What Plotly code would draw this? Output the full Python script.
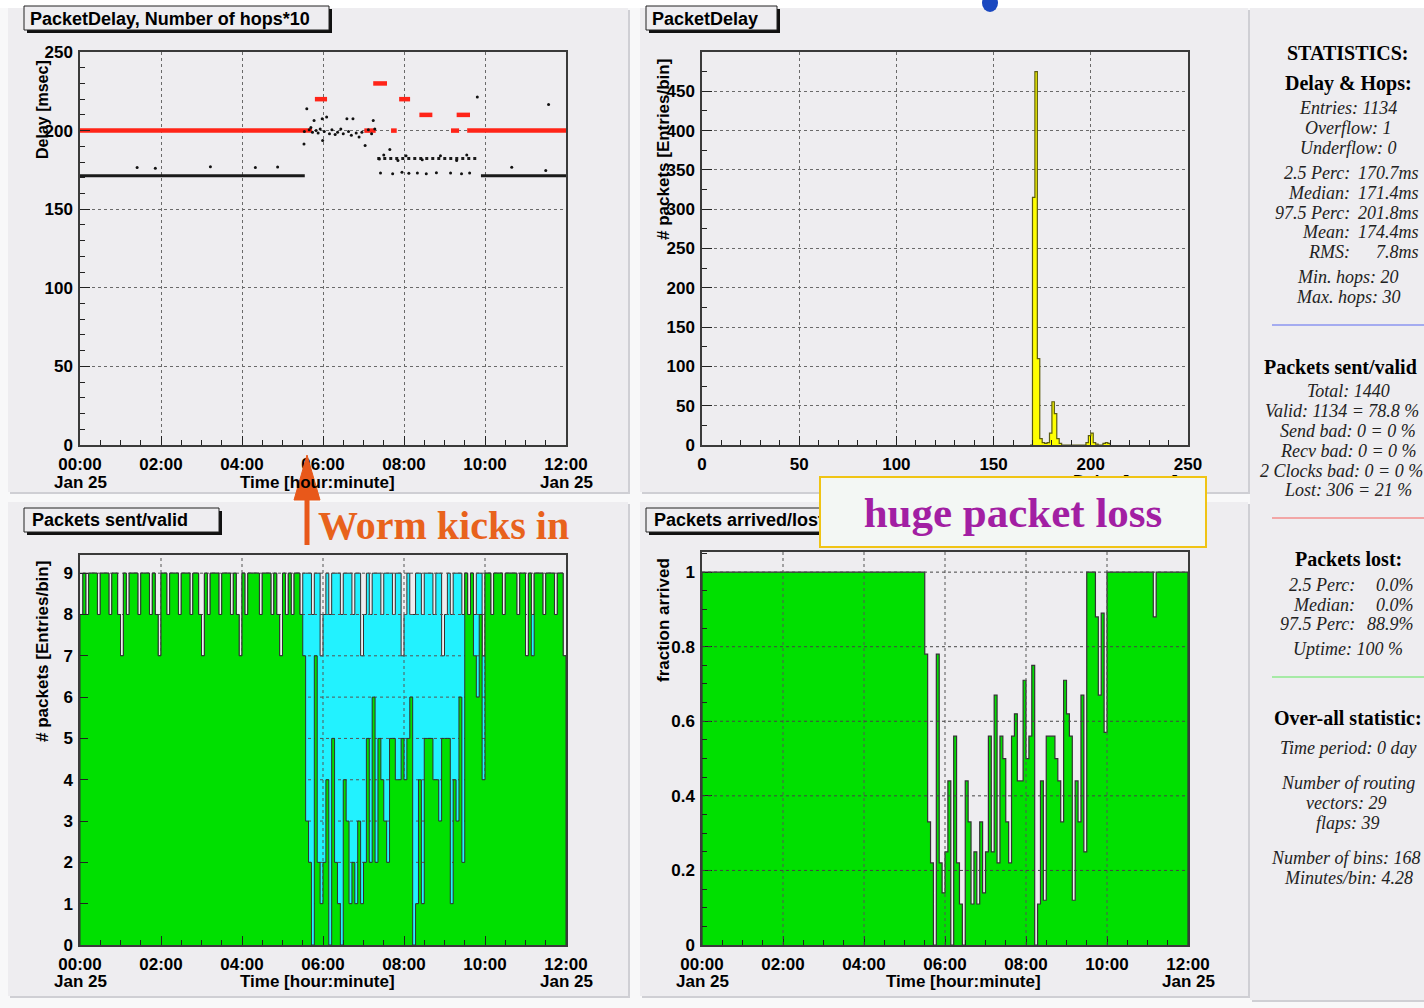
import plotly.graph_objects as go

W, H = 1424, 1008
def px(x): return x / W
def py(y): return 1 - y / H

# ====================== DATA ======================
time_tick_vals = [0, 2, 4, 6, 8, 10, 12]
time_tick_text = ["00:00", "02:00", "04:00", "06:00", "08:00", "10:00", "12:00"]
date_label_at = [0, 12]
date_label_text = ["Jan 25", "Jan 25"]

# --- Panel 1: PacketDelay, Number of hops*10 (time in hours) ---
delay_dense_start = [0.0, 9.90]
delay_dense_end = [5.55, 12.0]
delay_dense_ms = [171.3, 171.3]
delay_band_start = [7.34]
delay_band_end = [9.85]
delay_band_ms = [182.3]
delay_pt_time = [1.41, 1.86, 3.22, 4.33, 4.88,
                 5.53, 5.54, 5.60, 5.66, 5.70, 5.74, 5.78, 5.83, 5.88, 5.93,
                 5.98, 5.99, 6.03, 6.09, 6.16, 6.22, 6.30, 6.36, 6.44, 6.50,
                 6.59, 6.63, 6.70, 6.74, 6.82, 6.89, 6.96, 7.04, 7.12, 7.20,
                 7.24, 7.28,
                 7.39, 7.65, 7.50, 7.85, 8.05, 8.45, 8.90, 9.30, 9.55,
                 7.42, 7.72, 7.95, 8.12, 8.33, 8.55, 8.80, 9.15, 9.42, 9.62,
                 9.81, 10.66, 11.50, 11.57]
delay_pt_ms = [176.5, 176.0, 177.0, 176.5, 176.8,
               191.5, 199.5, 213.9, 200.5, 202.0, 199.0, 206.5, 200.0, 198.5, 201.0,
               207.5, 193.7, 199.5, 208.6, 198.0, 200.5, 197.5, 199.0, 201.0, 198.0,
               207.5, 199.5, 197.0, 207.5, 198.5, 196.0, 199.0, 190.5, 200.5, 198.0,
               206.5, 201.0,
               182.0, 188.0, 184.5, 181.0, 184.0, 181.5, 184.0, 181.0, 184.5,
               173.0, 172.5, 173.5, 172.8, 173.0, 172.5, 173.2, 173.0, 172.5, 173.0,
               221.3, 176.7, 174.6, 216.6]
hops_start = [0.00, 5.80, 7.02, 7.24, 7.68, 7.88, 8.38, 9.16, 9.30, 9.56]
hops_end = [5.73, 6.10, 7.30, 7.58, 7.82, 8.15, 8.70, 9.36, 9.63, 12.0]
hops_value = [20, 22, 20, 23, 20, 22, 21, 20, 21, 20]

# --- Panel 2: PacketDelay histogram (msec) ---
delay_bin_width = 1.25
delay_bin_low = [168.75, 170.0, 171.25, 172.5, 173.75, 175.0, 176.25, 177.5, 178.75, 180.0,
                 181.25, 182.5, 183.75, 185.0, 186.25, 187.5, 188.75, 190.0, 191.25, 192.5,
                 193.75, 195.0, 196.25, 197.5, 198.75, 200.0, 201.25, 202.5, 203.75, 205.0,
                 206.25, 207.5, 208.75]
delay_bin_count = [0, 315, 475, 110, 8, 3, 2, 3, 15, 55,
                   40, 8, 2, 0, 0, 0, 0, 0, 0, 0,
                   0, 0, 0, 3, 12, 15, 3, 1, 0, 0,
                   2, 3, 2]

# --- Panels 3/4: 168 bins of 4.28 minutes over 12 hours ---
n_time_bins = 168
packets_sent = [8, 9, 8, 9, 9, 9, 8, 9, 9, 9,
                8, 9, 9, 8, 7, 9, 8, 9, 9, 9,
                8, 9, 9, 9, 8, 9, 8, 7, 9, 9,
                8, 9, 9, 9, 8, 9, 9, 9, 8, 9,
                9, 8, 7, 9, 8, 9, 9, 9, 8, 9,
                9, 9, 8, 9, 8, 7, 9, 8, 9, 9,
                9, 9, 8, 9, 9, 9, 8, 9, 8, 7,
                9, 8, 9, 8, 9, 9, 8, 9, 9, 9,
                8, 9, 9, 7, 8, 9, 8, 9, 9, 9,
                8, 9, 9, 9, 8, 9, 9, 7, 8, 9,
                8, 9, 9, 9, 8, 9, 9, 9, 8, 9,
                9, 7, 8, 9, 8, 8, 9, 9, 8, 9,
                9, 9, 8, 9, 9, 7, 8, 9, 8, 9,
                9, 9, 8, 9, 8, 9, 8, 9, 9, 7,
                9, 9, 8, 9, 9, 9, 8, 9, 9, 9,
                9, 8, 9, 9, 7, 9, 8, 9, 9, 9,
                8, 9, 9, 9, 8, 9, 9, 7]
packets_valid = [8, 9, 8, 9, 9, 9, 8, 9, 9, 9,
                 8, 9, 9, 8, 7, 9, 8, 9, 9, 9,
                 8, 9, 9, 9, 8, 9, 8, 7, 9, 9,
                 8, 9, 9, 9, 8, 9, 9, 9, 8, 9,
                 9, 8, 7, 9, 8, 9, 9, 9, 8, 9,
                 9, 9, 8, 9, 8, 7, 9, 8, 9, 9,
                 9, 9, 8, 9, 9, 9, 8, 9, 8, 7,
                 9, 8, 9, 8, 9, 9, 8, 7, 3, 2,
                 0, 7, 2, 1, 2, 4, 0, 5, 2, 1,
                 0, 4, 3, 1, 2, 1, 3, 1, 2, 5,
                 2, 6, 2, 5, 4, 3, 2, 5, 5, 4,
                 4, 5, 4, 5, 6, 0, 1, 4, 1, 5,
                 5, 5, 4, 4, 3, 5, 5, 5, 1, 4,
                 3, 6, 2, 9, 8, 9, 7, 6, 8, 4,
                 9, 9, 8, 9, 9, 9, 8, 9, 9, 9,
                 9, 8, 9, 9, 7, 9, 7, 9, 9, 9,
                 8, 9, 9, 9, 8, 9, 9, 7]
fraction_arrived = [1, 1, 1, 1, 1, 1, 1, 1, 1, 1,
                    1, 1, 1, 1, 1, 1, 1, 1, 1, 1,
                    1, 1, 1, 1, 1, 1, 1, 1, 1, 1,
                    1, 1, 1, 1, 1, 1, 1, 1, 1, 1,
                    1, 1, 1, 1, 1, 1, 1, 1, 1, 1,
                    1, 1, 1, 1, 1, 1, 1, 1, 1, 1,
                    1, 1, 1, 1, 1, 1, 1, 1, 1, 1,
                    1, 1, 1, 1, 1, 1, 1, 0.78, 0.33, 0.22,
                    0, 0.78, 0.22, 0.14, 0.25, 0.44, 0, 0.56, 0.22, 0.11,
                    0, 0.44, 0.33, 0.11, 0.25, 0.11, 0.33, 0.14, 0.25, 0.56,
                    0.25, 0.67, 0.22, 0.56, 0.5, 0.33, 0.22, 0.56, 0.62, 0.44,
                    0.44, 0.71, 0.5, 0.56, 0.75, 0, 0.11, 0.44, 0.12, 0.56,
                    0.56, 0.56, 0.5, 0.44, 0.33, 0.71, 0.62, 0.56, 0.12, 0.44,
                    0.33, 0.67, 0.25, 1, 1, 1, 0.88, 0.67, 0.89, 0.57,
                    1, 1, 1, 1, 1, 1, 1, 1, 1, 1,
                    1, 1, 1, 1, 1, 1, 0.88, 1, 1, 1,
                    1, 1, 1, 1, 1, 1, 1, 1]
assert len(packets_sent) == n_time_bins
assert len(packets_valid) == n_time_bins
assert len(fraction_arrived) == n_time_bins

# ====================== STYLE ======================
PAD = "#eeedf0"
PAPER = "#f8f8f9"
GREEN = "#00e000"
CYAN = "#22f2ff"
SANS = "Liberation Sans, Arial, Helvetica"
SERIF = "Liberation Serif, Times New Roman, serif"
TICKFONT = dict(family=SANS, size=17, color="black", weight="bold")

def step_xy(lows, width, vals):
    xs = [lows[0]]
    ys = [0]
    for lo, v in zip(lows, vals):
        xs.append(lo)
        ys.append(v)
    xs += [lows[-1] + width, lows[-1] + width]
    ys += [vals[-1], 0]
    return xs, ys

def seg_xy(starts, ends, vals, scale=1.0):
    xs, ys = [], []
    for s, e, v in zip(starts, ends, vals):
        xs += [s, e, None]
        ys += [v * scale, v * scale, None]
    return xs, ys

fig = go.Figure()

# ---------- Panel 1 ----------
x, y = seg_xy(hops_start, hops_end, hops_value, 10)
fig.add_trace(go.Scatter(x=x, y=y, mode="lines", line=dict(color="#ff2418", width=4.5),
                         xaxis="x", yaxis="y", hoverinfo="skip"))
x, y = seg_xy(delay_dense_start, delay_dense_end, delay_dense_ms)
fig.add_trace(go.Scatter(x=x, y=y, mode="lines", line=dict(color="#1a1a1a", width=3),
                         xaxis="x", yaxis="y", hoverinfo="skip"))
x, y = seg_xy(delay_band_start, delay_band_end, delay_band_ms)
fig.add_trace(go.Scatter(x=x, y=y, mode="lines", line=dict(color="#1a1a1a", width=3, dash="dot"),
                         xaxis="x", yaxis="y", hoverinfo="skip"))
fig.add_trace(go.Scatter(x=delay_pt_time, y=delay_pt_ms, mode="markers",
                         marker=dict(color="#111", size=3), xaxis="x", yaxis="y"))

# ---------- Panel 2 ----------
x, y = step_xy(delay_bin_low, delay_bin_width, delay_bin_count)
fig.add_trace(go.Scatter(x=x, y=y, mode="lines", line_shape="hv", fill="tozeroy",
                         fillcolor="#ffff00", line=dict(color="#5c5c10", width=1.2),
                         xaxis="x2", yaxis="y2"))

# ---------- Panel 3 ----------
bin_w = 12.0 / n_time_bins
bin_low = [i * bin_w for i in range(n_time_bins)]
x, y = step_xy(bin_low, bin_w, packets_sent)
fig.add_trace(go.Scatter(x=x, y=y, mode="lines", line_shape="hv", fill="tozeroy",
                         fillcolor=CYAN, line=dict(color="#303030", width=1),
                         xaxis="x3", yaxis="y3"))
gx, gy = [], []
for t in time_tick_vals[1:-1]:
    gx += [t, t, None]
    gy += [0, 9.44, None]
for v in range(1, 10):
    gx += [0, 12, None]
    gy += [v, v, None]
fig.add_trace(go.Scatter(x=gx, y=gy, mode="lines", line=dict(color="#555", width=1, dash="dot"),
                         xaxis="x3", yaxis="y3", hoverinfo="skip"))
x, y = step_xy(bin_low, bin_w, packets_valid)
fig.add_trace(go.Scatter(x=x, y=y, mode="lines", line_shape="hv", fill="tozeroy",
                         fillcolor=GREEN, line=dict(color="#303030", width=1),
                         xaxis="x3", yaxis="y3"))

# ---------- Panel 4 ----------
x, y = step_xy(bin_low, bin_w, fraction_arrived)
fig.add_trace(go.Scatter(x=x, y=y, mode="lines", line_shape="hv", fill="tozeroy",
                         fillcolor=GREEN, line=dict(color="#333", width=1.2),
                         xaxis="x4", yaxis="y4"))

# ====================== AXES ======================
def ax(**kw):
    d = dict(showline=True, mirror=True, linecolor="#3a3a3a", linewidth=1.5,
             ticks="inside", tickcolor="#222", tickfont=TICKFONT, zeroline=False,
             showgrid=True, gridcolor="#6a6a6a", griddash="dot", gridwidth=1,
             fixedrange=True, ticklabelstandoff=2, automargin=False)
    d.update(kw)
    return d

dom_x_left = [px(80), px(566)]
dom_x_right = [px(702), px(1188)]
MINOR = dict(ticks="inside", tickcolor="#222", showgrid=False, ticklen=5)

layout = dict(
    width=W, height=H, margin=dict(l=0, r=0, t=0, b=0, autoexpand=False),
    paper_bgcolor=PAPER, plot_bgcolor="#f2f1f4", showlegend=False,
    xaxis=ax(domain=dom_x_left, range=[0, 12], anchor="y", tickvals=time_tick_vals,
             ticktext=time_tick_text, ticklen=9, ticklabelstandoff=3,
             minor=dict(dtick=0.5, **MINOR)),
    yaxis=ax(domain=[py(445), py(52)], range=[0, 250], anchor="x", dtick=50, ticklen=10,
             minor=dict(dtick=10, **MINOR)),
    xaxis2=ax(domain=dom_x_right, range=[0, 250], anchor="y2", dtick=50, ticklen=9,
              ticklabelstandoff=3, minor=dict(dtick=10, **MINOR)),
    yaxis2=ax(domain=[py(445), py(52)], range=[0, 500], anchor="x2", ticklen=10,
              tickvals=[0, 50, 100, 150, 200, 250, 300, 350, 400, 450],
              minor=dict(dtick=25, **MINOR)),
    xaxis3=ax(domain=dom_x_left, range=[0, 12], anchor="y3", tickvals=time_tick_vals,
              ticktext=time_tick_text, ticklen=9, showgrid=False, ticklabelstandoff=3,
              minor=dict(dtick=0.5, **MINOR)),
    yaxis3=ax(domain=[py(945), py(555)], range=[0, 9.44], anchor="x3",
              tickvals=[0, 1, 2, 3, 4, 5, 6, 7, 8, 9], ticklen=8, showgrid=False),
    xaxis4=ax(domain=dom_x_right, range=[0, 12], anchor="y4", tickvals=time_tick_vals,
              ticktext=time_tick_text, ticklen=9, showgrid=False, ticklabelstandoff=3,
              minor=dict(dtick=0.5, **MINOR)),
    yaxis4=ax(domain=[py(945), py(552)], range=[0, 1.054], anchor="x4",
              tickvals=[0, 0.2, 0.4, 0.6, 0.8, 1], ticktext=["0", "0.2", "0.4", "0.6", "0.8", "1"],
              ticklen=10, showgrid=False, minor=dict(dtick=0.05, **MINOR)),
)

# ====================== SHAPES ======================
shapes = []
def rect(x0, y0, x1, y1, fill, line=None, lw=0, layer="below"):
    shapes.append(dict(type="rect", xref="paper", yref="paper", x0=px(x0), x1=px(x1),
                       y0=py(y1), y1=py(y0), fillcolor=fill,
                       line=dict(color=line or fill, width=lw), layer=layer))

def hline(x0, x1, yv, color, width=2, layer="above"):
    shapes.append(dict(type="line", xref="paper", yref="paper", x0=px(x0), x1=px(x1),
                       y0=py(yv), y1=py(yv), line=dict(color=color, width=width), layer=layer))

# pads
for (x0, y0, x1, y1) in [(8, 8, 628, 492), (640, 8, 1248, 492), (8, 502, 628, 996),
                         (640, 502, 1248, 996), (1250, 8, 1430, 1000)]:
    rect(x0 + 2, y0 + 2, x1 + 2, y1 + 2, "#cfcfd4")
    rect(x0, y0, x1, y1, PAD)
rect(0, 0, W, 8, "#ffffff")

# P4 grid (drawn over the filled histogram)
for t in time_tick_vals[1:-1]:
    shapes.append(dict(type="line", xref="x4", yref="y4", x0=t, x1=t, y0=0, y1=1.054,
                       line=dict(color="#555", width=1, dash="dot"), layer="above"))
for v in [0.2, 0.4, 0.6, 0.8, 1.0]:
    shapes.append(dict(type="line", xref="x4", yref="y4", x0=0, x1=12, y0=v, y1=v,
                       line=dict(color="#444", width=1, dash="dot"), layer="above"))

# title boxes (with shadow)
for (x0, y0, x1, y1) in [(24, 6, 329, 30), (646, 6, 777, 30), (24, 508, 219, 532), (646, 508, 860, 532)]:
    rect(x0 + 3, y0 + 3, x1 + 3, y1 + 3, "#111111", layer="above")
    rect(x0, y0, x1, y1, PAD, line="#222222", lw=1, layer="above")

# stats separators
hline(1272, 1430, 325, "#a4abf0")
hline(1272, 1430, 518, "#f2a6a6")
hline(1272, 1430, 677, "#a6eaa6")

# Worm arrow
shapes.append(dict(type="line", xref="paper", yref="paper", x0=px(307), x1=px(307),
                   y0=py(545), y1=py(492), line=dict(color="#e8581a", width=5), layer="above"))
shapes.append(dict(type="path", xref="paper", yref="paper",
                   path=f"M {px(294)} {py(500)} L {px(320)} {py(500)} L {px(307)} {py(455)} Z",
                   fillcolor="#e8581a", line=dict(color="#e8581a", width=1), layer="above"))
# blue blob at top edge
shapes.append(dict(type="circle", xref="paper", yref="paper", x0=px(982), x1=px(998),
                   y0=py(12), y1=py(-6), fillcolor="#1a48c0", line=dict(width=0), layer="above"))

layout["shapes"] = shapes

# ====================== ANNOTATIONS ======================
anns = []
def ann(x, y, text, size=17, family=SANS, color="black", xanchor="center", yanchor="middle",
        angle=0, weight="bold", **kw):
    d = dict(x=px(x), y=py(y), xref="paper", yref="paper", text=text, showarrow=False,
             font=dict(family=family, size=size, color=color, weight=weight), xanchor=xanchor,
             yanchor=yanchor, textangle=angle)
    d.update(kw)
    anns.append(d)

# date line under first/last time tick
for xr, yy in [("x", 482), ("x3", 981), ("x4", 981)]:
    for t, txt in zip(date_label_at, date_label_text):
        anns.append(dict(x=t, y=py(yy), xref=xr, yref="paper", text=txt, showarrow=False,
                         font=dict(family=SANS, size=17, color="black", weight="bold"),
                         xanchor="center", yanchor="middle"))

# axis titles
ann(42, 110, "Delay [msec]", size=16, angle=-90)
ann(317, 482, "Time [hour:minute]")
ann(663, 150, "# packets [Entries/bin]", angle=-90)
ann(1125, 481, "Delay [msec]")
ann(42, 652, "# packets [Entries/bin]", angle=-90)
ann(317, 981, "Time [hour:minute]")
ann(663, 620, "fraction arrived", angle=-90)
ann(963, 981, "Time [hour:minute]")

# panel titles
ann(28, 19, "PacketDelay, Number of hops*10", size=18, xanchor="left")
ann(650, 19, "PacketDelay", size=18, xanchor="left")
ann(30, 520, "Packets sent/valid", size=18, xanchor="left")
ann(652, 520, "Packets arrived/lost", size=18, xanchor="left")

# statistics column
CX = 1348
def bold(x, y, t, xanchor="center"):
    ann(x, y, t, size=20, family=SERIF, xanchor=xanchor)

def ital(x, y, t, xanchor="center"):
    ann(x, y, "<i>" + t + "</i>", size=18, family=SERIF, xanchor=xanchor, color="#222",
        weight="normal")

bold(CX, 53, "STATISTICS:")
bold(CX, 83, "Delay &amp; Hops:")
ital(CX, 108, "Entries: 1134")
ital(CX, 128, "Overflow: 1")
ital(CX, 148, "Underflow: 0")
for lab, val, yy in [("2.5 Perc:", "170.7ms", 173), ("Median:", "171.4ms", 193),
                     ("97.5 Perc:", "201.8ms", 213), ("Mean:", "174.4ms", 232),
                     ("RMS:", "7.8ms", 252)]:
    ital(1352, yy, lab, xanchor="right")
    ital(1421, yy, val, xanchor="right")
ital(CX, 277, "Min. hops: 20")
ital(CX, 297, "Max. hops: 30")
bold(1262, 367, "Packets sent/valid", xanchor="left")
ital(CX, 391, "Total: 1440")
ital(1342, 411, "Valid: 1134 = 78.8 %")
ital(CX, 431, "Send bad: 0 = 0 %")
ital(CX, 451, "Recv bad: 0 = 0 %")
ital(1341, 471, "2 Clocks bad: 0 = 0 %")
ital(CX, 490, "Lost: 306 = 21 %")
bold(CX, 559, "Packets lost:")
for lab, val, yy in [("2.5 Perc:", "0.0%", 585), ("Median:", "0.0%", 605), ("97.5 Perc:", "88.9%", 624)]:
    ital(1357, yy, lab, xanchor="right")
    ital(1416, yy, val, xanchor="right")
ital(CX, 649, "Uptime: 100 %")
bold(CX, 718, "Over-all statistic:")
ital(CX, 748, "Time period: 0 day")
ital(CX, 783, "Number of routing")
ital(1346, 803, "vectors: 29")
ital(CX, 823, "flaps: 39")
ital(1346, 858, "Number of bins: 168")
ital(CX, 878, "Minutes/bin: 4.28")

# Worm label
ann(316, 525, "Worm kicks in", size=40, family=SERIF, color="#e8621c", xanchor="left")

# huge packet loss box (drawn last, on top)
ann(1013, 512, "huge packet loss", size=43, family=SERIF, color="#a21fa3",
    bgcolor="#f3f7f4", bordercolor="#f0c414", borderwidth=2, width=382, height=66,
    borderpad=1)

layout["annotations"] = anns
fig.update_layout(**layout)
fig.write_html("out.html")
